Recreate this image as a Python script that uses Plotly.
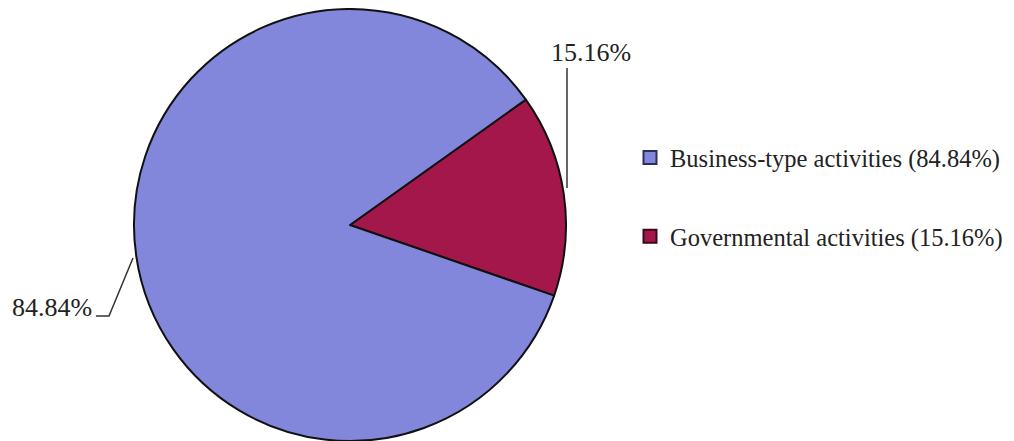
import plotly.graph_objects as go

categories = ["Governmental activities", "Business-type activities"]
values = [15.16, 84.84]
colors = ["#A3174A", "#8287DB"]
legend_labels = ["Business-type activities (84.84%)", "Governmental activities (15.16%)"]
legend_colors = ["#8287DB", "#A3174A"]
legend_borders = ["#2B2F5E", "#3A0A1A"]

# page body has an 8px margin; figure is sized to fill the rest of the window
OFF = 8
W, H = 1014 - OFF, 441 - OFF
FONT = "Liberation Serif, Times New Roman, serif"


def px(x):
    return (x - OFF) / W


def py(y):
    return 1 - (y - OFF) / H


fig = go.Figure()
fig.add_trace(go.Pie(
    labels=categories,
    values=values,
    sort=False,
    direction="clockwise",
    rotation=54.5,
    marker=dict(colors=colors, line=dict(color="#111111", width=2)),
    textinfo="none",
    hoverinfo="label+percent",
    showlegend=False,
    domain=dict(x=[px(130), px(570)], y=[0, py(9)]),
))

for i, (lab, col, bc) in enumerate(zip(legend_labels, legend_colors, legend_borders)):
    fig.add_trace(go.Scatter(
        x=[None], y=[None], mode="markers", name=lab,
        legendgroup=f"g{i}",
        marker=dict(symbol="square", size=13, color=col, line=dict(color=bc, width=2)),
    ))

# percentage labels with leader lines
pct = [f"{v:.2f}%" for v in values]
fig.add_annotation(x=px(591), y=py(52), xref="paper", yref="paper", text=pct[0],
                   xanchor="center", yanchor="middle",
                   showarrow=False, font=dict(family=FONT, size=26, color="#222"))
fig.add_annotation(x=px(52), y=py(307), xref="paper", yref="paper", text=pct[1],
                   xanchor="center", yanchor="middle",
                   showarrow=False, font=dict(family=FONT, size=26, color="#222"))
fig.add_shape(type="path", xref="paper", yref="paper",
              path=f"M {px(567)} {py(68)} L {px(567)} {py(188)}",
              line=dict(color="#333", width=1.5))
fig.add_shape(type="path", xref="paper", yref="paper",
              path=f"M {px(96)} {py(316)} L {px(109)} {py(316)} L {px(133)} {py(258)}",
              line=dict(color="#333", width=1.5))

fig.update_layout(
    width=W, height=H,
    margin=dict(l=0, r=0, t=0, b=0),
    paper_bgcolor="white", plot_bgcolor="white",
    xaxis=dict(visible=False), yaxis=dict(visible=False),
    font=dict(family=FONT, color="#222"),
    legend=dict(x=px(630), y=py(135), xanchor="left", yanchor="top",
                font=dict(family=FONT, size=24.5, color="#222"),
                tracegroupgap=44, itemwidth=30, bgcolor="rgba(0,0,0,0)"),
)
fig.write_html("out.html")
